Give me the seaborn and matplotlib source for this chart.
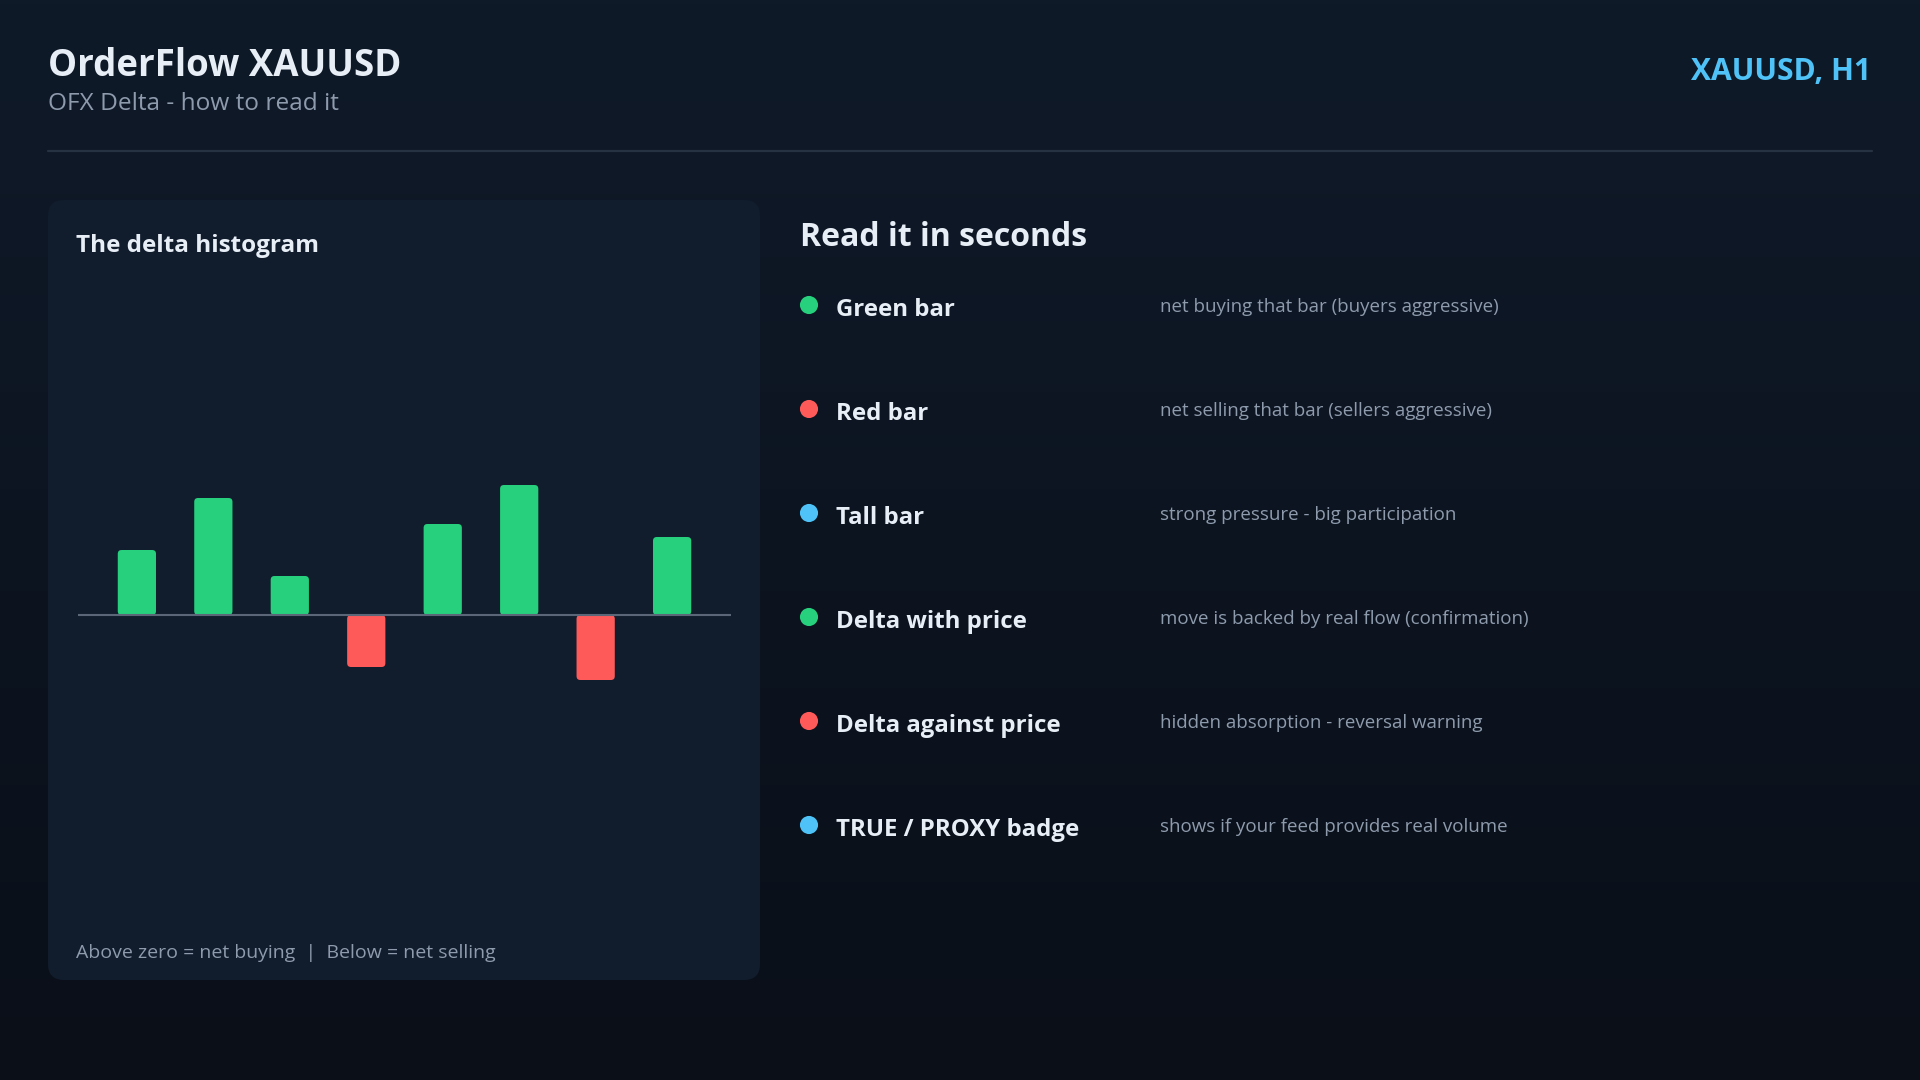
import numpy as np
import pandas as pd
import matplotlib.pyplot as plt
import seaborn as sns
from matplotlib.patches import FancyBboxPatch
from matplotlib.colors import LinearSegmentedColormap

# --- data ---
bar_labels = ['b1', 'b2', 'b3', 'b4', 'b5', 'b6', 'b7', 'b8']
delta_values = [50, 90, 30, -40, 70, 100, -50, 60]

item_labels = ['Green bar', 'Red bar', 'Tall bar', 'Delta with price',
               'Delta against price', 'TRUE / PROXY badge']
item_notes = ['net buying that bar (buyers aggressive)',
              'net selling that bar (sellers aggressive)',
              'strong pressure - big participation',
              'move is backed by real flow (confirmation)',
              'hidden absorption - reversal warning',
              'shows if your feed provides real volume']
item_kind = ['buy', 'sell', 'info', 'buy', 'sell', 'info']

GREEN = '#26d07c'
RED = '#ff5a5a'
BLUE = '#4fc3f7'
TXT = '#e8eef6'
MUTED = '#8e9bad'

sns.set_theme(style='white')
plt.rcParams['font.family'] = ['Open Sans', 'DejaVu Sans']

W, H = 1920, 1080
fig = plt.figure(figsize=(W / 100, H / 100), dpi=100)

# background + overlay in pixel coords
bg = fig.add_axes([0, 0, 1, 1])
bg.set_xlim(0, W)
bg.set_ylim(H, 0)
bg.axis('off')
cmap = LinearSegmentedColormap.from_list('bg', ['#0f1a29', '#0a0f18'])
grad = np.linspace(0, 1, 256).reshape(-1, 1)
bg.imshow(grad, cmap=cmap, extent=[0, W, H, 0], aspect='auto', zorder=0)

# header
bg.text(48, 66, 'OrderFlow XAUUSD', color=TXT, fontsize=26.4, fontweight='bold',
        va='center', ha='left')
bg.text(48, 104.5, 'OFX Delta - how to read it', color=MUTED, fontsize=17.6,
        va='center', ha='left')
bg.text(1871, 72, 'XAUUSD, H1', color=BLUE, fontsize=21.6, fontweight='bold',
        va='center', ha='right')
bg.plot([48, 1872], [151, 151], color='#263242', lw=1.6)

# left panel
panel = FancyBboxPatch((48, 200), 712, 780, boxstyle='round,pad=0,rounding_size=16',
                       fc='#111d2d', ec='none', zorder=1)
bg.add_patch(panel)
bg.text(76, 245.5, 'The delta histogram', color=TXT, fontsize=17.5, fontweight='bold',
        va='center', ha='left', zorder=2)
bg.text(76, 952.5, 'Above zero = net buying  |  Below = net selling', color=MUTED,
        fontsize=14, va='center', ha='left', zorder=2)

# right side list
bg.text(800, 237.5, 'Read it in seconds', color=TXT, fontsize=23, fontweight='bold',
        va='center', ha='left')
items = pd.DataFrame({'label': item_labels, 'note': item_notes, 'kind': item_kind})
items['x'] = 809
items['y'] = 305 + 104 * np.arange(len(items))
sns.scatterplot(data=items, x='x', y='y', hue='kind',
                palette={'buy': GREEN, 'sell': RED, 'info': BLUE},
                s=170, linewidth=0, legend=False, ax=bg, zorder=3)
for _, r in items.iterrows():
    bg.text(836, r['y'] + 5.5, r['label'], color=TXT, fontsize=17.3, fontweight='bold',
            va='center', ha='left')
    bg.text(1160, r['y'] + 2.5, r['note'], color=MUTED, fontsize=13.5,
            va='center', ha='left')
bg.set_xlim(0, W)
bg.set_ylim(H, 0)
bg.set_xlabel('')
bg.set_ylabel('')

# histogram axis: zero line at y=615 px, 1.3 px per unit
y_lo, y_hi = -125, 210
px_per_unit = 1.3
ax_h = (y_hi - y_lo) * px_per_unit
ax_bottom = 615 + (-y_lo) * px_per_unit
ax = fig.add_axes([78 / W, (H - ax_bottom) / H, 653 / W, ax_h / H])
ax.patch.set_alpha(0)
df = pd.DataFrame({'bar': bar_labels, 'delta': delta_values})
df['side'] = np.where(df['delta'] >= 0, 'up', 'down')
sns.barplot(data=df, x='bar', y='delta', hue='side',
            palette={'up': GREEN, 'down': RED}, width=0.5, dodge=False,
            saturation=1, legend=False, ax=ax, zorder=2)
ax.set_xlim(-0.77, 7.77)
ax.set_ylim(y_lo, y_hi)
ax.axhline(0, color='#5b6778', lw=1.5, zorder=3)

# round the bar corners
p0 = ax.transData.transform((0, 0))
p1 = ax.transData.transform((1, 1))
aspect = (p1[0] - p0[0]) / (p1[1] - p0[1])
for bar in list(ax.patches):
    x, y = bar.get_x(), bar.get_y()
    w, h = bar.get_width(), bar.get_height()
    if h < 0:
        y, h = y + h, -h
    rb = FancyBboxPatch((x, y), w, h, boxstyle='round,pad=0,rounding_size=0.05',
                        mutation_aspect=aspect, fc=bar.get_facecolor(), ec='none',
                        zorder=2)
    bar.set_visible(False)
    ax.add_patch(rb)

ax.axis('off')

fig.savefig('out.png', dpi=100, facecolor=fig.get_facecolor())
